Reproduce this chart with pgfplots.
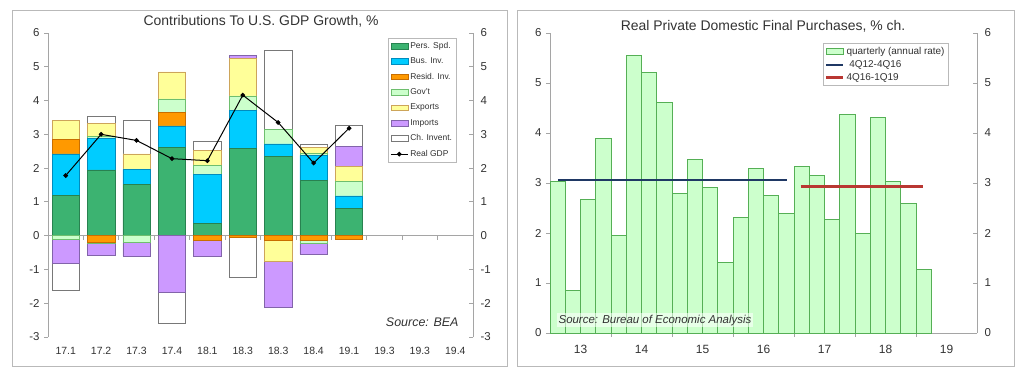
\documentclass[border=0pt]{standalone}
\usepackage{pgfplots}
\pgfplotsset{compat=1.18}
\usepackage{pgfplotstable}
\usepackage{fontspec}
\setmainfont{Liberation Sans}

\definecolor{cPS}{RGB}{60,179,113}
\definecolor{cPSd}{RGB}{40,130,80}
\definecolor{cBI}{RGB}{0,204,255}
\definecolor{cBId}{RGB}{0,140,190}
\definecolor{cRI}{RGB}{255,153,0}
\definecolor{cRId}{RGB}{200,110,0}
\definecolor{cGV}{RGB}{204,255,204}
\definecolor{cGVd}{RGB}{110,190,110}
\definecolor{cEX}{RGB}{255,255,153}
\definecolor{cEXd}{RGB}{205,165,90}
\definecolor{cIM}{RGB}{204,153,255}
\definecolor{cIMd}{RGB}{130,100,170}
\definecolor{cCId}{RGB}{120,120,120}
\definecolor{axgray}{RGB}{165,165,165}
\definecolor{framec}{RGB}{185,185,185}
\definecolor{qfill}{RGB}{204,255,204}
\definecolor{qdraw}{RGB}{85,175,85}
\definecolor{blueln}{RGB}{31,56,100}
\definecolor{redln}{RGB}{185,55,50}
\definecolor{txt}{RGB}{50,50,50}

% positive contributions
\pgfplotstableread{
x PS BI RI GV EX IM CI
0 1.20 1.22 0.42 0.00 0.58 0.00 0.00
1 1.95 0.93 0.00 0.05 0.39 0.00 0.23
2 1.52 0.44 0.00 0.02 0.44 0.00 1.00
3 2.62 0.63 0.40 0.40 0.80 0.00 0.00
4 0.37 1.45 0.00 0.25 0.45 0.00 0.28
5 2.58 1.14 0.00 0.42 1.10 0.10 0.00
6 2.35 0.37 0.00 0.43 0.00 0.00 2.35
7 1.63 0.75 0.00 0.05 0.19 0.00 0.08
8 0.80 0.38 0.00 0.42 0.45 0.60 0.62
}\pos
% negative contributions
\pgfplotstableread{
x RI GV EX IM CI
0 0.00 -0.10 0.00 -0.72 -0.80
1 -0.20 -0.03 0.00 -0.35 0.00
2 0.00 -0.20 0.00 -0.40 0.00
3 0.00 0.00 0.00 -1.68 -0.92
4 -0.13 -0.02 0.00 -0.45 0.00
5 -0.05 0.00 0.00 0.00 -1.17
6 -0.13 0.00 -0.62 -1.37 0.00
7 -0.15 -0.07 0.00 -0.33 0.00
8 -0.10 0.00 0.00 0.00 0.00
}\neg
\pgfplotstableread{
x gdp
0 1.78
1 3.00
2 2.82
3 2.28
4 2.22
5 4.16
6 3.35
7 2.15
8 3.18
}\gdp
% real private domestic final purchases, quarterly
\pgfplotstableread{
x y
13.125 3.03
13.375 0.85
13.625 2.67
13.875 3.89
14.125 1.96
14.375 5.55
14.625 5.21
14.875 4.61
15.125 2.79
15.375 3.47
15.625 2.91
15.875 1.42
16.125 2.31
16.375 3.29
16.625 2.76
16.875 2.40
17.125 3.34
17.375 3.15
17.625 2.28
17.875 4.37
18.125 1.99
18.375 4.32
18.625 3.03
18.875 2.60
19.125 1.27
}\rpdfp

\pgfplotsset{
  common/.style={
    anchor=south west, scale only axis, clip=false,
    /pgf/number format/assume math mode=true,
    tick label style={font=\fontsize{11.5}{12}\selectfont, text=txt},
    axis line style={draw=axgray, line width=0.8bp},
    tick style={draw=axgray, line width=0.8bp},
    major tick length=4bp,
  },
  leftbase/.style={common,
    at={(48bp,37bp)}, width=425bp, height=304bp,
    xmin=-0.5, xmax=11.5, ymin=-3, ymax=6, ytick={-3,...,6},
  },
  rightbase/.style={common,
    at={(550bp,41bp)}, width=427bp, height=300bp,
    xmin=13, xmax=20, ymin=0, ymax=6, ytick={0,...,6},
  },
  seg/.style={line width=0.5bp},
}

\begin{document}
\begin{tikzpicture}[x=1bp,y=1bp]
\path (0,0) rectangle (1027,374);
\draw[framec, line width=0.8bp] (12,8) rectangle (507,364);
\draw[framec, line width=0.8bp] (517,8) rectangle (1014,364);

% ---------- left panel: positive stack ----------
\begin{axis}[leftbase, ybar stacked, bar width=0.77,
  axis y line*=left, axis x line*=middle, tick align=outside,
  xtick={0.5,1.5,...,10.5}, xticklabels={},
  yticklabel style={xshift=-1bp}]
\addplot[seg, fill=cPS, draw=cPSd] table[x=x,y=PS]{\pos};
\addplot[seg, fill=cBI, draw=cBId] table[x=x,y=BI]{\pos};
\addplot[seg, fill=cRI, draw=cRId] table[x=x,y=RI]{\pos};
\addplot[seg, fill=cGV, draw=cGVd] table[x=x,y=GV]{\pos};
\addplot[seg, fill=cEX, draw=cEXd] table[x=x,y=EX]{\pos};
\addplot[seg, fill=cIM, draw=cIMd] table[x=x,y=IM]{\pos};
\addplot[seg, fill=white, draw=cCId] table[x=x,y=CI]{\pos};
\end{axis}

% ---------- left panel: negative stack ----------
\begin{axis}[leftbase, ybar stacked, bar width=0.77, hide axis]
\addplot[seg, fill=cRI, draw=cRId] table[x=x,y=RI]{\neg};
\addplot[seg, fill=cGV, draw=cGVd] table[x=x,y=GV]{\neg};
\addplot[seg, fill=cEX, draw=cEXd] table[x=x,y=EX]{\neg};
\addplot[seg, fill=cIM, draw=cIMd] table[x=x,y=IM]{\neg};
\addplot[seg, fill=white, draw=cCId] table[x=x,y=CI]{\neg};
\end{axis}

% ---------- left panel: GDP line, right axis, labels, legend ----------
\begin{axis}[leftbase,
  axis y line*=right, axis x line*=bottom, tick align=inside,
  x axis line style={draw=none}, xtick style={draw=none},
  xtick={0,...,11},
  xticklabels={17.1,17.2,17.3,17.4,18.1,18.3,18.3,18.4,19.1,19.3,19.3,19.4},
  xticklabel style={font=\fontsize{10.5}{12}\selectfont, yshift=-7bp},
  yticklabel style={xshift=4bp},
  legend style={at={(0.80,0.984)}, anchor=north west, draw=framec,
    font=\fontsize{8.5}{9.5}\selectfont, text=txt, inner sep=2bp,
    row sep=4bp, line width=0.6bp},
  legend cell align=left]
\addlegendimage{area legend, fill=cPS, draw=cPSd}
\addlegendimage{area legend, fill=cBI, draw=cBId}
\addlegendimage{area legend, fill=cRI, draw=cRId}
\addlegendimage{area legend, fill=cGV, draw=cGVd}
\addlegendimage{area legend, fill=cEX, draw=cEXd}
\addlegendimage{area legend, fill=cIM, draw=cIMd}
\addlegendimage{area legend, fill=white, draw=cCId}
\addplot[black, line width=1bp, mark=*, mark size=1.8bp] table[x=x,y=gdp]{\gdp};
\legend{Pers. Spd., Bus. Inv., Resid. Inv., Gov't, Exports, Imports, Ch. Invent., Real GDP}
\node[anchor=east, font=\itshape\fontsize{12.5}{14}\selectfont, text=txt]
  at (rel axis cs:0.974,0.05) {Source: BEA};
\end{axis}

% ---------- right panel: bars ----------
\begin{axis}[rightbase, ybar, bar width=0.25,
  axis y line*=left, axis x line*=bottom, tick align=outside,
  xtick={14,...,19}, xticklabels={},
  yticklabel style={xshift=-1bp}]
\addplot[fill=qfill, draw=qdraw, line width=0.7bp] table[x=x,y=y]{\rpdfp};
\end{axis}

% ---------- right panel: lines, right axis, labels, legend ----------
\begin{axis}[rightbase,
  axis y line*=right, axis x line*=bottom, tick align=inside,
  x axis line style={draw=none}, xtick style={draw=none},
  xtick={13.5,14.5,...,19.5}, xticklabels={13,14,15,16,17,18,19},
  xticklabel style={font=\fontsize{12}{13}\selectfont, yshift=-9bp},
  yticklabel style={xshift=4bp},
  legend style={at={(0.639,0.967)}, anchor=north west, draw=framec,
    font=\fontsize{10}{11}\selectfont, text=txt, inner sep=2bp,
    row sep=0.5bp, line width=0.6bp},
  legend cell align=left]
\addlegendimage{area legend, fill=qfill, draw=qdraw, line width=0.7bp}
\addplot[blueln, line width=1.8bp] coordinates {(13.13,3.06) (16.89,3.06)};
\addplot[redln, line width=2.4bp] coordinates {(17.11,2.93) (19.11,2.93)};
\legend{quarterly (annual rate), \ 4Q12-4Q16, 4Q16-1Q19}
\node[anchor=west, fill=white, fill opacity=0.55, text opacity=1, inner sep=2bp,
  font=\itshape\fontsize{11.5}{13}\selectfont, text=txt]
  at (rel axis cs:0.015,0.043) {Source: Bureau of Economic Analysis};
\end{axis}

\node[font=\fontsize{14}{16}\selectfont, text=txt] at (261,353) {Contributions To U.S. GDP Growth, \%};
\node[font=\fontsize{14}{16}\selectfont, text=txt] at (763,348) {Real Private Domestic Final Purchases, \% ch.};
\end{tikzpicture}
\end{document}
